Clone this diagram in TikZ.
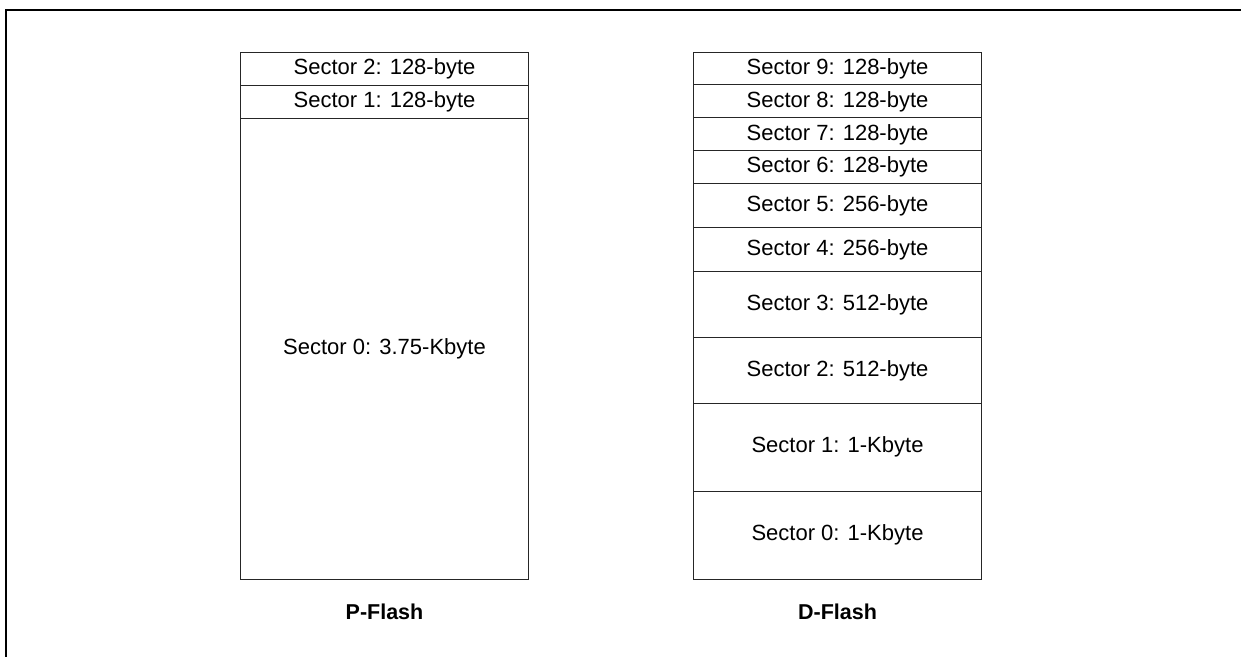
\documentclass[tikz,border=0pt]{standalone}
\usepackage{fontspec}
\setmainfont{Liberation Sans}
\begin{document}
\begin{tikzpicture}[x=1pt,y=-1pt,
  sec/.style={draw=black!85, line width=1pt, rectangle, inner sep=0pt, outer sep=0pt,
    minimum width=288pt, anchor=north west, font=\fontsize{22}{26}\selectfont},
  flashlabel/.style={font=\bfseries\fontsize{21.5}{26}\selectfont, inner sep=0pt},
  frameline/.style={draw=black, line width=2pt}]
\useasboundingbox (0,0) rectangle (1241,656);
\def\u{32.9375}
% frame
\coordinate (fb) at (6,660);
\coordinate (ft) at (6,10);
\coordinate (fr) at (1245,10);
\draw[frameline] (fb) -- (ft) -- (fr);
% P-Flash
\node[sec, minimum height=33pt] (p2) at (240.5,52) {Sector 2: 128-byte};
\node[sec, minimum height=33pt] (p1) at (p2.south west) {Sector 1: 128-byte};
\node[sec, minimum height=461pt] (p0) at (p1.south west) {Sector 0: 3.75-Kbyte};
\node[flashlabel] (pl) at (384.5,612) {P-Flash};
% D-Flash
\node[sec, minimum height=\u pt] (d9) at (693.5,52) {Sector 9: 128-byte};
\node[sec, minimum height=\u pt] (d8) at (d9.south west) {Sector 8: 128-byte};
\node[sec, minimum height=\u pt] (d7) at (d8.south west) {Sector 7: 128-byte};
\node[sec, minimum height=\u pt] (d6) at (d7.south west) {Sector 6: 128-byte};
\node[sec, minimum height=1.333*\u pt] (d5) at (d6.south west) {Sector 5: 256-byte};
\node[sec, minimum height=1.333*\u pt] (d4) at (d5.south west) {Sector 4: 256-byte};
\node[sec, minimum height=2*\u pt] (d3) at (d4.south west) {Sector 3: 512-byte};
\node[sec, minimum height=2*\u pt] (d2) at (d3.south west) {Sector 2: 512-byte};
\node[sec, minimum height=2.667*\u pt] (d1) at (d2.south west) {Sector 1: 1-Kbyte};
\node[sec, minimum height=2.667*\u pt] (d0) at (d1.south west) {Sector 0: 1-Kbyte};
\node[flashlabel] (dl) at (837.5,612) {D-Flash};
\end{tikzpicture}
\end{document}
